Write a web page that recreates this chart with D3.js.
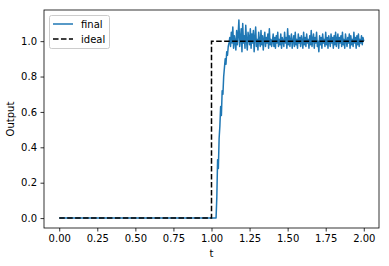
<!DOCTYPE html>
<html>
<head>
<meta charset="utf-8">
<script src="https://cdn.jsdelivr.net/npm/d3@7"></script>
<style>
  body { margin: 0; background: #fff; }
  svg { display: block; font-family: "DejaVu Sans", sans-serif; }
</style>
</head>
<body>
<svg id="chart" width="389" height="266"></svg>
<script>
// Ideal step response
const ideal_t = [0, 1.0, 1.0, 2.0];
const ideal_v = [0, 0, 1, 1];

// Final response: flat part and the rise
const rise_t = [0, 1.03, 1.035, 1.04, 1.045, 1.05, 1.055, 1.06, 1.065, 1.07, 1.075, 1.08, 1.085, 1.09, 1.095, 1.10, 1.105, 1.11, 1.115];
const rise_v = [0, 0, 0.12, 0.33, 0.28, 0.45, 0.52, 0.63, 0.58, 0.72, 0.70, 0.80, 0.85, 0.90, 0.87, 0.94, 0.92, 0.97, 0.99];

// Final response: noisy settled part, sampled every 0.005 from t = 1.12
const noise_t0 = 1.12;
const noise_dt = 0.005;
const noise_v = [
    1.02, 0.97, 1.05, 0.99, 1.08, 0.96, 1.03, 1.00, 0.95, 1.06, 0.98, 1.04, 1.12, 0.97, 1.01, 1.07, 0.94, 1.10, 0.99, 1.03,
    0.96, 1.09, 1.00, 0.95, 1.05, 1.02, 0.98, 1.07, 0.96, 1.04, 0.99, 1.06, 0.94, 1.02, 1.08, 0.97, 1.01, 0.95, 1.05, 1.00,
    0.97, 1.06, 0.98, 1.03, 0.95, 1.01, 1.05, 0.97, 1.02, 0.99, 1.04, 0.96, 1.07, 0.98, 1.01, 0.97,
    1.00, 1.04, 0.97, 1.02, 0.96, 1.03, 0.99, 1.05, 0.97, 1.01, 0.98, 1.04, 0.96, 1.02, 1.00, 0.97, 1.05, 0.99, 1.02, 0.96,
    1.07, 0.98, 1.03, 0.97, 1.01, 1.04, 0.96, 1.00, 1.03, 0.97, 1.05, 0.98, 1.01, 0.96, 1.04, 0.99, 1.02, 0.97, 1.03, 1.00,
    0.96, 1.05, 0.98, 1.02, 0.97, 1.04, 0.99, 1.01, 0.96, 1.03, 0.98, 1.06, 0.97, 1.01, 1.04, 0.96, 1.02, 0.99, 1.05, 0.97,
    1.00, 0.94, 1.03, 0.98, 1.02, 0.96, 1.04, 0.99, 1.01, 0.97, 1.05, 0.98, 1.02, 0.96, 1.03, 1.00, 0.97, 1.04, 0.99, 1.02,
    0.96, 1.03, 0.98, 1.05, 0.97, 1.01, 1.04, 0.96, 1.02, 0.99, 1.03, 0.97, 1.05, 0.98, 1.01, 0.96, 1.04, 1.00, 0.97, 1.02,
    0.99, 1.04, 0.96, 1.03, 0.98, 1.01, 0.97, 1.05, 0.99, 1.02, 0.96, 1.03, 0.98, 1.04, 0.97, 1.01, 0.99, 1.03, 0.98, 1.02, 1.00
];

const x_ticks = [0, 0.25, 0.5, 0.75, 1.0, 1.25, 1.5, 1.75, 2.0];
const y_ticks = [0, 0.2, 0.4, 0.6, 0.8, 1.0];

// Build point lists
let final_pts = rise_t.map((t, i) => [t, rise_v[i]]);
noise_v.forEach((v, i) => final_pts.push([noise_t0 + i * noise_dt, v]));
let ideal_pts = ideal_t.map((t, i) => [t, ideal_v[i]]);

const area = { left: 44, top: 10, right: 379, bottom: 228 };

let svg = d3.select('#chart');

let xScale = d3.scaleLinear().domain([-0.1, 2.1]).range([area.left, area.right]);
let yScale = d3.scaleLinear().domain([-0.056, 1.176]).range([area.bottom, area.top]);

let plot = svg.append('g');

// Lines
let line = d3.line().x(d => xScale(d[0])).y(d => yScale(d[1]));

plot.append('path')
    .datum(final_pts)
    .attr('d', line)
    .attr('fill', 'none')
    .attr('stroke', '#1f77b4')
    .attr('stroke-width', 1.5)
    .attr('stroke-linejoin', 'round');

plot.append('path')
    .datum(ideal_pts)
    .attr('d', line)
    .attr('fill', 'none')
    .attr('stroke', 'black')
    .attr('stroke-width', 1.5)
    .attr('stroke-dasharray', '5.55,2.4');

// Axes
let xAxis = svg.append('g')
    .attr('transform', `translate(0,${area.bottom})`)
    .call(d3.axisBottom(xScale).tickValues(x_ticks).tickFormat(d3.format('.2f')).tickSize(3.5).tickPadding(3.5).tickSizeOuter(0));

let yAxis = svg.append('g')
    .attr('transform', `translate(${area.left},0)`)
    .call(d3.axisLeft(yScale).tickValues(y_ticks).tickFormat(d3.format('.1f')).tickSize(3.5).tickPadding(3.5).tickSizeOuter(0));

[xAxis, yAxis].forEach(a => {
    a.select('.domain').remove();
    a.selectAll('text').attr('font-size', 10).attr('fill', 'black').attr('font-family', 'DejaVu Sans');
    a.selectAll('line').attr('stroke', 'black').attr('stroke-width', 0.8);
});

// Frame
svg.append('rect')
    .attr('x', area.left)
    .attr('y', area.top)
    .attr('width', area.right - area.left)
    .attr('height', area.bottom - area.top)
    .attr('fill', 'none')
    .attr('stroke', 'black')
    .attr('stroke-width', 0.8);

// Axis titles
svg.append('text')
    .attr('x', (area.left + area.right) / 2)
    .attr('y', 257)
    .attr('text-anchor', 'middle')
    .attr('font-size', 10)
    .text('t');

svg.append('text')
    .attr('transform', `translate(14,${(area.top + area.bottom) / 2}) rotate(-90)`)
    .attr('text-anchor', 'middle')
    .attr('font-size', 10)
    .text('Output');

// Legend
let legend = svg.append('g');
legend.append('rect')
    .attr('x', 49.5).attr('y', 15.5)
    .attr('width', 60).attr('height', 33)
    .attr('rx', 2)
    .attr('fill', 'white').attr('fill-opacity', 0.8)
    .attr('stroke', '#cccccc').attr('stroke-width', 1);

let legend_items = [
    { label: 'final', color: '#1f77b4', dash: null },
    { label: 'ideal', color: 'black', dash: '5.55,2.4' }
];
legend_items.forEach((d, i) => {
    let y = 24 + i * 15;
    legend.append('line')
        .attr('x1', 53).attr('x2', 73)
        .attr('y1', y).attr('y2', y)
        .attr('stroke', d.color).attr('stroke-width', 1.5)
        .attr('stroke-dasharray', d.dash);
    legend.append('text')
        .attr('x', 81).attr('y', y + 3.5)
        .attr('font-size', 10)
        .text(d.label);
});
</script>
</body>
</html>
